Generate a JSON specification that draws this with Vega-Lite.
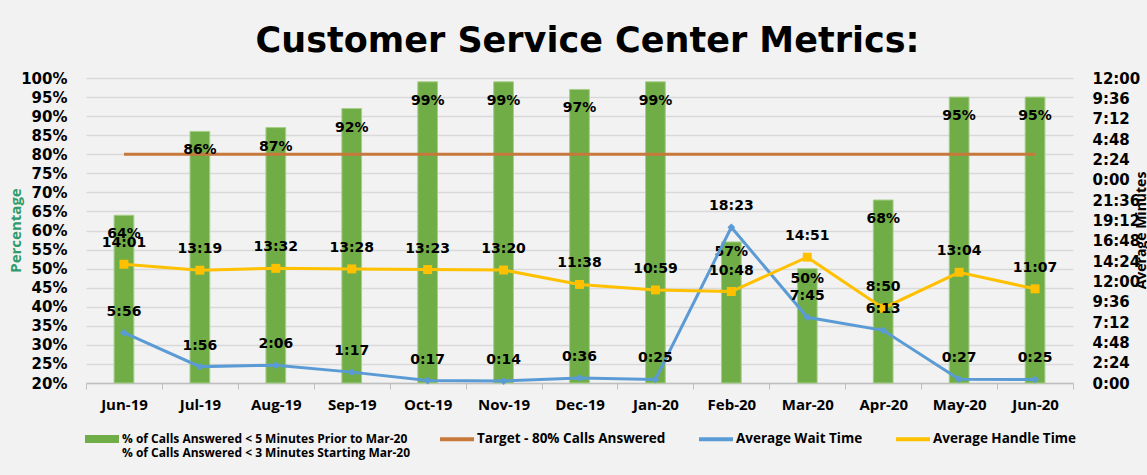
{
  "$schema": "https://vega.github.io/schema/vega-lite/v6.json",
  "width": 987,
  "height": 305,
  "autosize": "none",
  "padding": {"left": 86, "top": 78, "right": 74, "bottom": 92},
  "background": "#F2F2F2",
  "title": {
    "text": "Customer Service Center Metrics:",
    "font": "DejaVu Sans",
    "fontWeight": 700,
    "fontSize": 35,
    "color": "#000000",
    "anchor": "middle",
    "frame": "group",
    "offset": 27,
    "dy": 43,
    "dx": 8,
    "baseline": "alphabetic"
  },
  "config": {
    "view": {"stroke": null},
    "text": {"font": "DejaVu Sans", "fontWeight": "bold", "fontSize": 14, "color": "#000000"},
    "axisX": {
      "labelAngle": 0,
      "labelFont": "Open Sans",
      "labelFontWeight": "bold",
      "labelFontSize": 15,
      "labelColor": "#000000",
      "labelPadding": 8,
      "tickBand": "extent",
      "tickSize": 6,
      "tickColor": "#BFBFBF",
      "domainColor": "#BFBFBF",
      "domainWidth": 1.5,
      "grid": false
    },
    "axisLeft": {
      "labelFont": "DejaVu Sans",
      "labelFontWeight": "bold",
      "labelFontSize": 15,
      "labelColor": "#000000",
      "labelPadding": 19,
      "labelOverlap": false,
      "labelBound": false,
      "labelFlush": false,
      "ticks": false,
      "domain": false,
      "grid": true,
      "gridColor": "#D9D9D9",
      "gridWidth": 1.5,
      "titleFont": "Open Sans",
      "titleFontWeight": "bold",
      "titleFontSize": 15,
      "titleColor": "#2F9B6A",
      "titleAngle": 270,
      "titleX": -71,
      "titleY": 152,
      "titleBaseline": "middle",
      "titleAlign": "center"
    },
    "axisRight": {
      "labelFont": "DejaVu Sans",
      "labelFontWeight": "bold",
      "labelFontSize": 15,
      "labelColor": "#000000",
      "labelPadding": 19,
      "labelOverlap": false,
      "labelBound": false,
      "labelFlush": false,
      "ticks": false,
      "domain": false,
      "grid": false,
      "titleFont": "Open Sans",
      "titleFontWeight": "bold",
      "titleFontSize": 14,
      "titleColor": "#000000",
      "titleAngle": 270,
      "titleX": 68,
      "titleY": 152,
      "titleBaseline": "middle",
      "titleAlign": "center"
    },
    "legend": {
      "orient": "none",
      "direction": "horizontal",
      "title": null,
      "symbolSize": 1156,
      "symbolStrokeWidth": 0,
      "labelFont": "Open Sans",
      "labelFontWeight": "bold",
      "labelColor": "#000000",
      "labelLimit": 400,
      "labelOffset": 3
    }
  },
  "data": {
    "values": [
      {"month": "Jun-19", "pct": 0.64, "target": 0.8, "wait_s": 356, "wait": "5:56", "handle_s": 841, "handle": "14:01"},
      {"month": "Jul-19", "pct": 0.86, "target": 0.8, "wait_s": 116, "wait": "1:56", "handle_s": 799, "handle": "13:19"},
      {"month": "Aug-19", "pct": 0.87, "target": 0.8, "wait_s": 126, "wait": "2:06", "handle_s": 812, "handle": "13:32"},
      {"month": "Sep-19", "pct": 0.92, "target": 0.8, "wait_s": 77, "wait": "1:17", "handle_s": 808, "handle": "13:28"},
      {"month": "Oct-19", "pct": 0.99, "target": 0.8, "wait_s": 17, "wait": "0:17", "handle_s": 803, "handle": "13:23"},
      {"month": "Nov-19", "pct": 0.99, "target": 0.8, "wait_s": 14, "wait": "0:14", "handle_s": 800, "handle": "13:20"},
      {"month": "Dec-19", "pct": 0.97, "target": 0.8, "wait_s": 36, "wait": "0:36", "handle_s": 698, "handle": "11:38"},
      {"month": "Jan-20", "pct": 0.99, "target": 0.8, "wait_s": 25, "wait": "0:25", "handle_s": 659, "handle": "10:59"},
      {"month": "Feb-20", "pct": 0.57, "target": 0.8, "wait_s": 1103, "wait": "18:23", "handle_s": 648, "handle": "10:48"},
      {"month": "Mar-20", "pct": 0.50, "target": 0.8, "wait_s": 465, "wait": "7:45", "handle_s": 891, "handle": "14:51"},
      {"month": "Apr-20", "pct": 0.68, "target": 0.8, "wait_s": 373, "wait": "6:13", "handle_s": 530, "handle": "8:50"},
      {"month": "May-20", "pct": 0.95, "target": 0.8, "wait_s": 27, "wait": "0:27", "handle_s": 784, "handle": "13:04"},
      {"month": "Jun-20", "pct": 0.95, "target": 0.8, "wait_s": 25, "wait": "0:25", "handle_s": 667, "handle": "11:07"}
    ]
  },
  "encoding": {
    "x": {
      "field": "month",
      "type": "ordinal",
      "sort": null,
      "title": null,
      "scale": {"paddingInner": 0, "paddingOuter": 0}
    }
  },
  "layer": [
    {
      "layer": [
        {
          "mark": {"type": "bar", "width": {"band": 0.26}, "stroke": "#A6CF88", "strokeWidth": 1},
          "encoding": {
            "y": {
              "field": "pct",
              "type": "quantitative",
              "title": "Percentage",
              "scale": {"domain": [0.2, 1.0], "nice": false, "zero": false},
              "axis": {
                "orient": "left",
                "values": [0.2, 0.25, 0.3, 0.35, 0.4, 0.45, 0.5, 0.55, 0.6, 0.65, 0.7, 0.75, 0.8, 0.85, 0.9, 0.95, 1.0],
                "tickCount": 40,
                "format": ".0%"
              }
            },
            "y2": {"datum": 0.2},
            "fill": {
              "datum": "% of Calls Answered < 5 Minutes Prior to Mar-20|% of Calls Answered < 3 Minutes Starting Mar-20",
              "scale": {"range": ["#70AD47"]},
              "legend": {
                "legendX": -1,
                "legendY": 344,
                "labelFontSize": 12,
                "symbolType": "M-1,-0.23H1V0.23H-1Z",
                "labelExpr": "split(datum.label, '|')",
                "encode": {
                  "symbols": {
                    "update": {
                      "fill": {"scale": "fill", "field": "value"},
                      "stroke": {"value": "transparent"},
                      "opacity": {"value": 1}
                    }
                  },
                  "labels": {
                    "enter": {"lineHeight": {"value": 17}},
                    "update": {"lineHeight": {"value": 17}, "baseline": {"value": "middle"}}
                  }
                }
              }
            }
          }
        },
        {
          "mark": {"type": "line", "strokeWidth": 3},
          "encoding": {
            "y": {"field": "target", "type": "quantitative", "title": "Percentage"},
            "color": {
              "datum": "Target - 80% Calls Answered",
              "scale": {
                "domain": ["Target - 80% Calls Answered", "Average Wait Time", "Average Handle Time"],
                "range": ["#C7793C", "#5B9BD5", "#FFC000"]
              },
              "legend": {
                "legendX": 354,
                "legendY": 344,
                "labelFontSize": 13.5,
                "columnPadding": 33,
                "symbolType": "M-1,-0.12H1V0.12H-1Z",
                "encode": {
                  "symbols": {
                    "update": {
                      "fill": {"scale": "color", "field": "value"},
                      "stroke": {"value": "transparent"},
                      "opacity": {"value": 1}
                    }
                  }
                }
              }
            }
          }
        },
        {
          "transform": [{"filter": "datum.month != 'Feb-20' && datum.month != 'Mar-20'"}],
          "mark": {"type": "text", "baseline": "middle", "dy": 19},
          "encoding": {
            "y": {"field": "pct", "type": "quantitative", "title": "Percentage"},
            "text": {"field": "pct", "type": "quantitative", "format": ".0%"}
          }
        },
        {
          "transform": [{"filter": "datum.month == 'Feb-20' || datum.month == 'Mar-20'"}],
          "mark": {"type": "text", "baseline": "middle", "dy": 10},
          "encoding": {
            "y": {"field": "pct", "type": "quantitative", "title": "Percentage"},
            "text": {"field": "pct", "type": "quantitative", "format": ".0%"}
          }
        }
      ]
    },
    {
      "layer": [
        {
          "mark": {"type": "line", "strokeWidth": 3, "point": {"shape": "diamond", "size": 60, "filled": true}},
          "encoding": {
            "y": {
              "field": "wait_s",
              "type": "quantitative",
              "title": "Average Minutes",
              "scale": {"domain": [0, 2160], "nice": false},
              "axis": {
                "orient": "right",
                "values": [0, 144, 288, 432, 576, 720, 864, 1008, 1152, 1296, 1440, 1584, 1728, 1872, 2016, 2160],
                "tickCount": 40,
                "labelExpr": "(floor(datum.value / 60) % 24) + ':' + ((datum.value % 60) < 10 ? '0' : '') + (datum.value % 60)"
              }
            },
            "color": {"datum": "Average Wait Time"}
          }
        },
        {
          "mark": {"type": "line", "strokeWidth": 3, "point": {"shape": "square", "size": 80, "filled": true}},
          "encoding": {
            "y": {"field": "handle_s", "type": "quantitative", "title": "Average Minutes"},
            "color": {"datum": "Average Handle Time"}
          }
        },
        {
          "mark": {"type": "text", "baseline": "middle", "dy": -21},
          "encoding": {
            "y": {"field": "wait_s", "type": "quantitative", "title": "Average Minutes"},
            "text": {"field": "wait", "type": "nominal"}
          }
        },
        {
          "mark": {"type": "text", "baseline": "middle", "dy": -21},
          "encoding": {
            "y": {"field": "handle_s", "type": "quantitative", "title": "Average Minutes"},
            "text": {"field": "handle", "type": "nominal"}
          }
        }
      ]
    }
  ],
  "resolve": {"scale": {"y": "independent"}}
}
